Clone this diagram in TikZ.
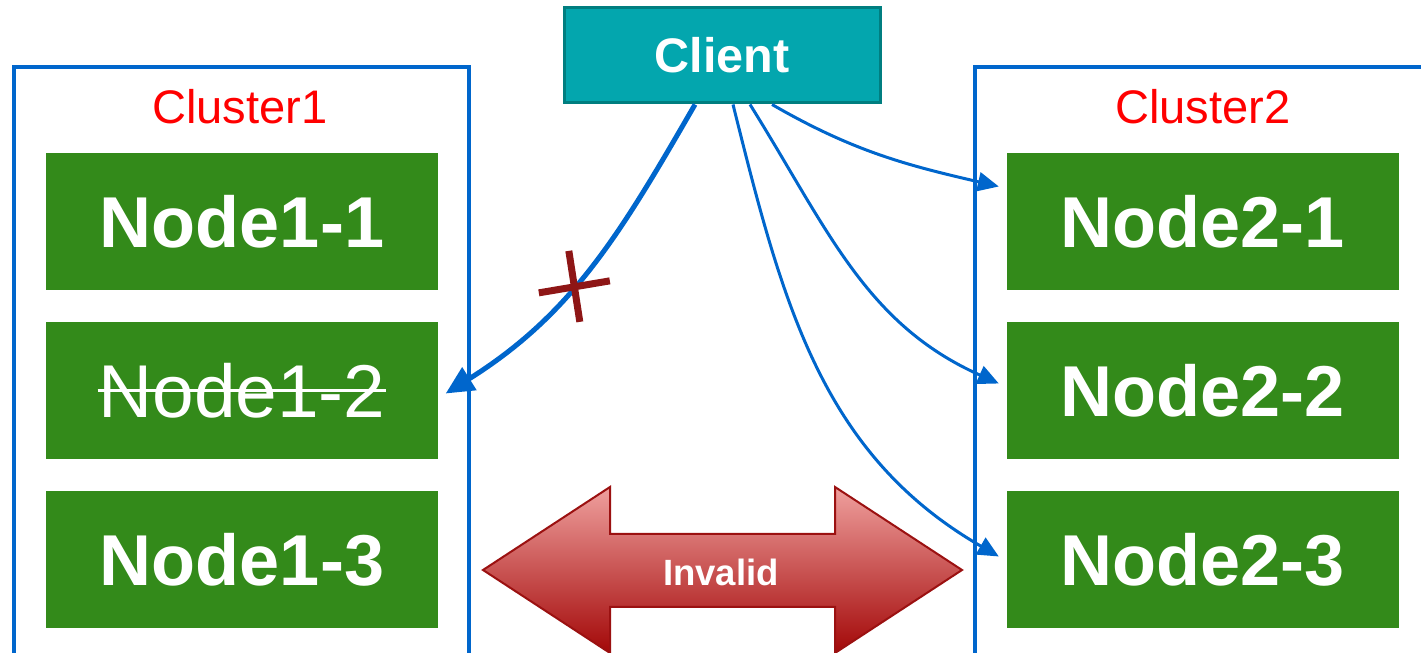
\documentclass[tikz,border=0pt]{standalone}
\usepackage{fontspec}
\setmainfont{Liberation Sans}
\usetikzlibrary{arrows.meta}
\definecolor{linkblue}{HTML}{0066CC}
\definecolor{srvgreen}{HTML}{338A1A}
\definecolor{cltfill}{HTML}{03A6AE}
\definecolor{cltline}{HTML}{007E80}
\definecolor{crossred}{HTML}{8E1616}
\definecolor{arrtop}{HTML}{EFA09E}
\definecolor{arrbot}{HTML}{A30808}
\definecolor{arrline}{HTML}{9B1111}

\begin{document}
\begin{tikzpicture}[
  srv/.style={rectangle,minimum width=3.92cm,minimum height=1.37cm,inner sep=0pt,
    fill=srvgreen,text=white,font=\bfseries\fontsize{20.5}{24}\selectfont},
  clusterbox/.style={draw=linkblue,line width=0.035cm},
  clusterlbl/.style={anchor=base,text=red,font=\fontsize{13.4}{16}\selectfont},
  req/.style={draw=linkblue,line width=0.03cm,-{Triangle[length=0.21cm,width=0.19cm]}},
  badreq/.style={draw=linkblue,line width=0.05cm,-{Triangle[length=0.28cm,width=0.26cm]}}]
  \useasboundingbox (0,0) rectangle (14.21,6.53);
  \clip (0,0) rectangle (14.21,6.53);

  % clusters
  \draw[clusterbox] (0.14,5.86) rectangle (4.69,-0.5);
  \draw[clusterbox] (9.75,5.86) rectangle (14.6,-0.5);
  \draw(2.40,5.29) node[clusterlbl] (c1) {Cluster1};
  \draw(12.03,5.29) node[clusterlbl] (c2) {Cluster2};

  % nodes
  \draw(2.42,4.315) node[srv] (n11) {Node1-1};
  \draw(2.42,2.625) node[srv] (n12) {};
  \draw(2.42,0.935) node[srv] (n13) {Node1-3};
  \draw(12.025,4.315) node[srv] (n21) {Node2-1};
  \draw(12.025,2.625) node[srv] (n22) {Node2-2};
  \draw(12.025,0.935) node[srv] (n23) {Node2-3};
  \draw(n12.center) node[inner sep=0pt,text=white,font=\fontsize{21.3}{25}\selectfont] (n12txt) {Node1-2};
  \draw[white,line width=0.03cm] (n12txt.west) -- (n12txt.east);

  % client
  \draw(7.22,5.975) node[rectangle,minimum width=3.16cm,minimum height=0.95cm,fill=cltfill,
    draw=cltline,line width=0.03cm,text=white,font=\bfseries\fontsize{13.8}{16}\selectfont] (client) {Client};

  % requests
  \draw[badreq] ([xshift=-0.27cm]client.south) to[out=-120,in=32] coordinate[pos=0.57] (fail) ([xshift=0.07cm,yshift=-0.03cm]n12.east);
  \draw[crossred,line width=0.07cm] ([shift={(-0.35,-0.06)}]fail) -- ([shift={(0.36,0.06)}]fail)
    ([shift={(-0.05,0.36)}]fail) -- ([shift={(0.06,-0.35)}]fail);
  \draw[req] ([xshift=0.50cm]client.south) to[out=-30,in=167] ([xshift=-0.07cm,yshift=0.35cm]n21.west);
  \draw[req] ([xshift=0.28cm]client.south) to[out=-58,in=156] ([xshift=-0.07cm,yshift=0.07cm]n22.west);
  \draw[req] ([xshift=0.11cm]client.south) to[out=-76,in=150] ([xshift=-0.07cm,yshift=0.03cm]n23.west);

  % invalid
  \shade[top color=arrtop,bottom color=arrbot,draw=arrline,line width=0.02cm]
    (4.83,0.83) -- (6.10,1.66) -- (6.10,1.19) -- (8.35,1.19) -- (8.35,1.66) -- (9.62,0.83)
    -- (8.35,0.0) -- (8.35,0.46) -- (6.10,0.46) -- (6.10,0.0) -- cycle;
  \draw(7.21,0.81) node[text=white,font=\bfseries\fontsize{10.4}{12}\selectfont] (inv) {Invalid};
\end{tikzpicture}
\end{document}
